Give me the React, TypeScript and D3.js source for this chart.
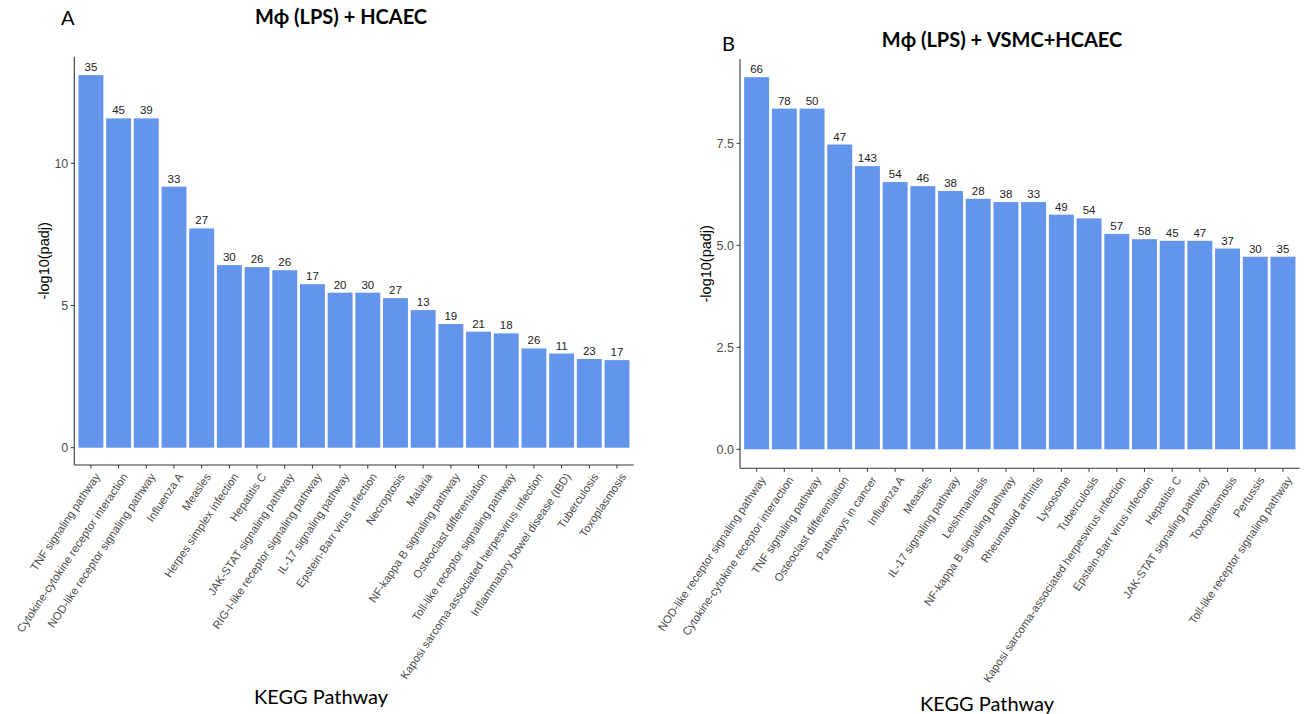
import React from "react";
import * as d3 from "d3";

// ---------- Panel A data ----------
const catsA = [
  "TNF signaling pathway",
  "Cytokine-cytokine receptor interaction",
  "NOD-like receptor signaling pathway",
  "Influenza A",
  "Measles",
  "Herpes simplex infection",
  "Hepatitis C",
  "JAK-STAT signaling pathway",
  "RIG-I-like receptor signaling pathway",
  "IL-17 signaling pathway",
  "Epstein-Barr virus infection",
  "Necroptosis",
  "Malaria",
  "NF-kappa B signaling pathway",
  "Osteoclast differentiation",
  "Toll-like receptor signaling pathway",
  "Kaposi sarcoma-associated herpesvirus infection",
  "Inflammatory bowel disease (IBD)",
  "Tuberculosis",
  "Toxoplasmosis",
];
const valuesA = [13.1, 11.58, 11.58, 9.18, 7.71, 6.42, 6.35, 6.24, 5.75, 5.45, 5.45, 5.26, 4.84, 4.35, 4.08, 4.02, 3.49, 3.31, 3.12, 3.08];
const countsA = [35, 45, 39, 33, 27, 30, 26, 26, 17, 20, 30, 27, 13, 19, 21, 18, 26, 11, 23, 17];
const ticksA = [0, 5, 10];

// ---------- Panel B data ----------
const catsB = [
  "NOD-like receptor signaling pathway",
  "Cytokine-cytokine receptor interaction",
  "TNF signaling pathway",
  "Osteoclast differentiation",
  "Pathways in cancer",
  "Influenza A",
  "Measles",
  "IL-17 signaling pathway",
  "Leishmaniasis",
  "NF-kappa B signaling pathway",
  "Rheumatoid arthritis",
  "Lysosome",
  "Tuberculosis",
  "Kaposi sarcoma-associated herpesvirus infection",
  "Epstein-Barr virus infection",
  "Hepatitis C",
  "JAK-STAT signaling pathway",
  "Toxoplasmosis",
  "Pertussis",
  "Toll-like receptor signaling pathway",
];
const valuesB = [9.12, 8.35, 8.35, 7.47, 6.94, 6.55, 6.45, 6.33, 6.14, 6.06, 6.06, 5.75, 5.66, 5.28, 5.15, 5.11, 5.11, 4.92, 4.72, 4.72];
const countsB = [66, 78, 50, 47, 143, 54, 46, 38, 28, 38, 33, 49, 54, 57, 58, 45, 47, 37, 30, 35];
const ticksB = [0, 2.5, 5, 7.5];

type PanelProps = {
  cats: string[];
  values: number[];
  counts: number[];
  ticks: number[];
  fmt: (v: number) => string;
  letter: string;
  title: string;
  xLeft: number;
  xRight: number;
  yTop: number;
  yBottom: number;
  yDom: [number, number];
  yRange: [number, number];
  letterPos: [number, number];
  titlePos: [number, number];
  yLabelX: number;
  xTitlePos: [number, number];
};

const AXIS = "#333333";
const TICKTXT = "#4D4D4D";
const BAR = "#6495ED";

function Panel(p: PanelProps) {
  const x = d3
    .scaleBand<string>()
    .domain(p.cats)
    .range([p.xLeft, p.xRight])
    .paddingInner(0.1)
    .paddingOuter(0.15);
  const y = d3.scaleLinear().domain(p.yDom).range(p.yRange);
  const y0 = y(0);
  const bw = x.bandwidth();
  const yMid = (p.yTop + p.yBottom) / 2;
  return (
    <g>
      <text x={p.letterPos[0]} y={p.letterPos[1]} fontFamily="Lato, 'Open Sans', sans-serif" fontSize={20} fill="#000">
        {p.letter}
      </text>
      <text
        x={p.titlePos[0]}
        y={p.titlePos[1]}
        textAnchor="middle"
        fontFamily="Lato, 'Open Sans', sans-serif"
        fontWeight="bold"
        fontSize={20}
        fill="#000"
      >
        {p.title}
      </text>
      {p.cats.map((c, i) => {
        const xv = x(c)!;
        const yv = y(p.values[i]);
        return (
          <g key={c}>
            <rect x={xv} y={yv} width={bw} height={y0 - yv} fill={BAR} />
            <text
              x={xv + bw / 2}
              y={yv - 4}
              textAnchor="middle"
              fontFamily="'Liberation Sans', Arial, sans-serif"
              fontSize={11.5}
              fill="#222"
            >
              {p.counts[i]}
            </text>
          </g>
        );
      })}
      {/* axes */}
      <line x1={p.xLeft} x2={p.xLeft} y1={p.yTop} y2={p.yBottom} stroke={AXIS} strokeWidth={1.1} />
      <line x1={p.xLeft} x2={p.xRight} y1={p.yBottom} y2={p.yBottom} stroke={AXIS} strokeWidth={1.1} />
      {p.ticks.map((t) => (
        <g key={t}>
          <line x1={p.xLeft - 3.5} x2={p.xLeft} y1={y(t)} y2={y(t)} stroke={AXIS} strokeWidth={1} />
          <text
            x={p.xLeft - 6}
            y={y(t)}
            dy="0.35em"
            textAnchor="end"
            fontFamily="'Liberation Sans', Arial, sans-serif"
            fontSize={12.5}
            fill={TICKTXT}
          >
            {p.fmt(t)}
          </text>
        </g>
      ))}
      {p.cats.map((c) => {
        const cx = x(c)! + bw / 2;
        return (
          <g key={"t" + c}>
            <line x1={cx} x2={cx} y1={p.yBottom} y2={p.yBottom + 3.5} stroke={AXIS} strokeWidth={1} />
            <text
              transform={`translate(${cx + 3},${p.yBottom + 7}) rotate(-56)`}
              textAnchor="end"
              dy="0.71em"
              fontFamily="'Liberation Sans', Arial, sans-serif"
              fontSize={11.3}
              fill={TICKTXT}
            >
              {c}
            </text>
          </g>
        );
      })}
      <text
        transform={`translate(${p.yLabelX},${yMid}) rotate(-90)`}
        textAnchor="middle"
        fontFamily="'Liberation Sans', Arial, sans-serif"
        fontSize={14.5}
        fill="#000"
      >
        -log10(padj)
      </text>
      <text
        x={p.xTitlePos[0]}
        y={p.xTitlePos[1]}
        textAnchor="middle"
        fontFamily="Lato, 'Open Sans', sans-serif"
        fontSize={20}
        fill="#000"
      >
        KEGG Pathway
      </text>
    </g>
  );
}

export default function App() {
  return (
    <svg
      width={1306}
      height={714}
      style={{ position: "absolute", left: 0, top: 0, background: "#fff" }}
    >
      <rect width={1306} height={714} fill="#fff" />
      <Panel
        cats={catsA}
        values={valuesA}
        counts={countsA}
        ticks={ticksA}
        fmt={(v) => d3.format("d")(v)}
        letter="A"
        title="Mϕ (LPS) + HCAEC"
        xLeft={74.3}
        xRight={633.6}
        yTop={56.7}
        yBottom={465}
        yDom={[0, 10]}
        yRange={[447.7, 163.3]}
        letterPos={[61, 25]}
        titlePos={[341, 24]}
        yLabelX={49}
        xTitlePos={[321, 704]}
      />
      <Panel
        cats={catsB}
        values={valuesB}
        counts={countsB}
        ticks={ticksB}
        fmt={(v) => d3.format(".1f")(v)}
        letter="B"
        title="Mϕ (LPS) + VSMC+HCAEC"
        xLeft={740}
        xRight={1299.6}
        yTop={59.3}
        yBottom={468.3}
        yDom={[0, 7.5]}
        yRange={[449.3, 143.3]}
        letterPos={[722, 51]}
        titlePos={[1002, 47]}
        yLabelX={711}
        xTitlePos={[987, 711]}
      />
    </svg>
  );
}
